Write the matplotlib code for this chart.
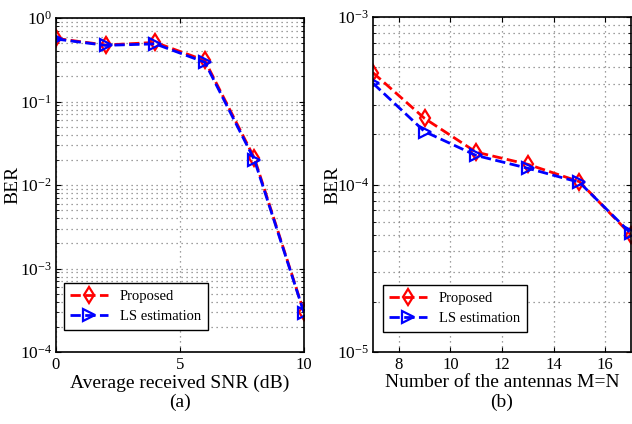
import matplotlib
matplotlib.use("Agg")
import matplotlib.pyplot as plt

plt.rcParams['font.family'] = ['Liberation Serif', 'DejaVu Serif']
plt.rcParams['mathtext.fontset'] = 'custom'
plt.rcParams['mathtext.rm'] = 'Liberation Serif'
plt.rcParams['mathtext.it'] = 'Liberation Serif:italic'

# (a) BER vs SNR
snr = [0, 2, 4, 6, 8, 10]
ber_prop_a = [0.57, 0.475, 0.51, 0.31, 0.021, 3.0e-4]
ber_ls_a = [0.56, 0.47, 0.49, 0.295, 0.020, 2.95e-4]

# (b) BER vs antennas
ants = [7, 9, 11, 13, 15, 17]
ber_prop_b = [4.65e-4, 2.48e-4, 1.56e-4, 1.32e-4, 1.04e-4, 5.0e-5]
ber_ls_b = [4.02e-4, 2.07e-4, 1.49e-4, 1.25e-4, 1.03e-4, 5.1e-5]

fig = plt.figure(figsize=(6.32, 4.24), dpi=100, facecolor='white')
ax1 = fig.add_axes([56/632, 1-352/424, 248/632, 334/424])
ax2 = fig.add_axes([373/632, 1-352/424, 258/632, 335/424])


def style(ax, x, yp, yl, leg_anchor):
    ax.semilogy(x, yp, 'r--', marker='d', mfc='none', mec='red', ms=8, mew=1.6, lw=2, label='Proposed')
    ax.semilogy(x, yl, 'b--', marker='>', mfc='none', mec='blue', ms=8, mew=1.6, lw=2, label='LS estimation')
    ax.grid(True, which='major', linestyle=(0, (1, 3)), color='gray', lw=0.9)
    ax.grid(True, which='minor', axis='y', linestyle=(0, (1, 3)), color='gray', lw=0.9)
    ax.tick_params(which='both', direction='in', top=True, right=True)
    ax.tick_params(axis='x', labelsize=12)
    ax.tick_params(axis='y', labelsize=12.5, pad=3)
    for s in ax.spines.values():
        s.set_linewidth(1.2)
    ax.set_ylabel('BER', fontsize=14)
    leg = ax.legend(loc='lower left', bbox_to_anchor=leg_anchor, borderaxespad=0, fontsize=10.5,
                    fancybox=False, edgecolor='black', framealpha=1, handlelength=2.6,
                    borderpad=0.45, labelspacing=0.5)
    leg.get_frame().set_linewidth(1.0)


style(ax1, snr, ber_prop_a, ber_ls_a, (0.032, 0.066))
ax1.set_xlim(0, 10)
ax1.set_ylim(1e-4, 1)
ax1.set_xticks([0, 5, 10])
ax1.set_xlabel('Average received SNR (dB)', fontsize=14, labelpad=1)
ax1.yaxis.set_label_coords(-0.14, 0.5)

style(ax2, ants, ber_prop_b, ber_ls_b, (0.038, 0.06))
ax2.set_xlim(7, 17)
ax2.set_ylim(1e-5, 1e-3)
ax2.set_xticks([8, 10, 12, 14, 16])
ax2.set_xlabel('Number of the antennas M=N', fontsize=14, labelpad=1)
ax2.yaxis.set_label_coords(-0.124, 0.5)

fig.text(180/632, 1-402/424, '(a)', ha='center', va='center', fontsize=14)
fig.text(502/632, 1-402/424, '(b)', ha='center', va='center', fontsize=14)

fig.savefig('out.png', dpi=100)
